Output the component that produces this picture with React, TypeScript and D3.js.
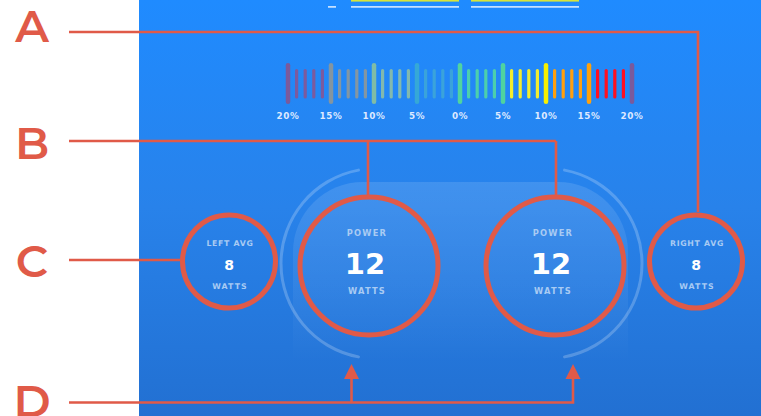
import React from "react";
import * as d3 from "d3";

// ---- data ----
const barColors = [
  "#7a5a9c", "#7c5a9e", "#7c5a9e", "#7c5a9e", "#7c5a9e",
  "#8495a0", "#8396a2", "#8396a2", "#8396a2", "#8396a2",
  "#80bca6", "#82b9ae", "#82b9ae", "#82b9ae", "#82b9ae",
  "#36a8d6", "#3aa3db", "#3aa3db", "#3aa3db", "#3aa3db",
  "#50d49f", "#4ccfac", "#4ccfac", "#4ccfac", "#4ccfac",
  "#4fd39f", "#f2ee2e", "#f2ee2e", "#f2ee2e", "#f2ee2e",
  "#f7f000", "#ff9f10", "#ff9f10", "#ff9f10", "#ff9f10",
  "#ffa10c", "#ff1020", "#ff1020", "#ff1020", "#ff1020",
  "#7a5a9c",
];
const tickLabels = ["20%", "15%", "10%", "5%", "0%", "5%", "10%", "15%", "20%"];
const powerTitles = ["POWER", "POWER"];
const powerValues = [12, 12];
const avgTitles = ["LEFT AVG", "RIGHT AVG"];
const avgValues = [8, 8];
const unitLabel = "WATTS";
const annotationLetters = ["A", "B", "C", "D"];

const W = 761;
const H = 416;
const RED = "#e05a48";

export default function App() {
  const x = d3.scaleLinear().domain([0, barColors.length - 1]).range([288, 632]);
  const bigCx = [369, 555];
  const bigCy = 266;
  const smallCx = [229, 696];
  const smallCy = 261.5;

  const arcGen = d3.arc<any>().innerRadius(93.5).outerRadius(96.5).cornerRadius(1.5);
  const leftArc = arcGen({ startAngle: Math.PI + 0.17, endAngle: 2 * Math.PI - 0.17 } as any) as string;
  const rightArc = arcGen({ startAngle: 0.17, endAngle: Math.PI - 0.17 } as any) as string;

  const uiFont = "'DejaVu Sans', sans-serif";
  const letterFont = "Montserrat, 'Open Sans', sans-serif";
  const letterY = [42, 159, 277, 417];

  const arrow = (cx: number) =>
    `M${cx},364 L${cx + 7.5},379 L${cx - 7.5},379 Z`;

  return (
    <svg
      width={W}
      height={H}
      style={{ position: "fixed", left: 0, top: 0, display: "block" }}
    >
      <defs>
        <linearGradient id="bg" x1="0" y1="0" x2="0" y2="1">
          <stop offset="0%" stopColor="#1f8bff" />
          <stop offset="50%" stopColor="#2882ea" />
          <stop offset="100%" stopColor="#2270d2" />
        </linearGradient>
        <linearGradient id="panel" x1="0" y1="0" x2="0" y2="1">
          <stop offset="0%" stopColor="#ffffff" stopOpacity={0.12} />
          <stop offset="35%" stopColor="#ffffff" stopOpacity={0.06} />
          <stop offset="62%" stopColor="#ffffff" stopOpacity={0} />
        </linearGradient>
      </defs>
      <rect x={0} y={0} width={W} height={H} fill="#ffffff" />
      <rect x={139} y={0} width={W - 139} height={H} fill="url(#bg)" />

      {/* top header lines */}
      <rect x={351} y={0} width={108} height={1.6} fill="#d8e43a" />
      <rect x={471} y={0} width={108} height={1.6} fill="#d8e43a" />
      <rect x={351} y={6.2} width={108} height={1.4} fill="#eef6ff" />
      <rect x={471} y={6.2} width={108} height={1.4} fill="#eef6ff" />
      <rect x={328} y={6.2} width={8} height={1.4} fill="#eef6ff" />

      {/* bars */}
      {barColors.map((c, i) => {
        const tall = i % 5 === 0;
        const w = tall ? 4.5 : 3.2;
        const y0 = tall ? 63 : 69;
        const y1 = tall ? 104 : 98.5;
        return (
          <rect
            key={i}
            x={x(i) - w / 2}
            y={y0}
            width={w}
            height={y1 - y0}
            rx={w / 2}
            fill={c}
          />
        );
      })}
      {tickLabels.map((t, k) => (
        <text
          key={k}
          x={x(k * 5)}
          y={119}
          textAnchor="middle"
          fontFamily={uiFont}
          fontWeight={700}
          fontSize={8.8}
          letterSpacing={0.6}
          fill="#dde9ff"
        >
          {t}
        </text>
      ))}

      {/* light panel */}
      <rect x={293} y={182} width={335} height={290} rx={70} fill="url(#panel)" />

      {/* arcs */}
      <path d={leftArc} transform="translate(376,263.5)" fill="#ffffff" fillOpacity={0.22} />
      <path d={rightArc} transform="translate(547,263.5)" fill="#ffffff" fillOpacity={0.22} />

      {/* big circles */}
      {bigCx.map((cx, i) => (
        <g key={i}>
          <text x={cx - 2} y={236} textAnchor="middle" fontFamily={uiFont} fontWeight={700}
            fontSize={8.3} letterSpacing={1.2} fill="#a9cbf3">
            {powerTitles[i]}
          </text>
          <text x={cx - 4} y={273.5} textAnchor="middle" fontFamily={uiFont} fontWeight={700}
            fontSize={29} fill="#ffffff">
            {powerValues[i]}
          </text>
          <text x={cx - 2} y={293.5} textAnchor="middle" fontFamily={uiFont} fontWeight={700}
            fontSize={8.3} letterSpacing={1.2} fill="#a9cbf3">
            {unitLabel}
          </text>
        </g>
      ))}
      {/* small circles */}
      {smallCx.map((cx, i) => (
        <g key={i}>
          <text x={cx + 1} y={246} textAnchor="middle" fontFamily={uiFont} fontWeight={700}
            fontSize={7.8} letterSpacing={0.7} fill="#a9cbf3">
            {avgTitles[i]}
          </text>
          <text x={cx} y={270} textAnchor="middle" fontFamily={uiFont} fontWeight={700}
            fontSize={14} fill="#ffffff">
            {avgValues[i]}
          </text>
          <text x={cx + 1} y={288.5} textAnchor="middle" fontFamily={uiFont} fontWeight={700}
            fontSize={7.8} letterSpacing={1.1} fill="#a9cbf3">
            {unitLabel}
          </text>
        </g>
      ))}

      {/* annotation overlay */}
      <g stroke={RED} strokeWidth={2.6} fill="none">
        <polyline points={`69,32 698,32 698,212`} />
        <polyline points={`69,141 556,141`} />
        <line x1={368} y1={141} x2={368} y2={196} />
        <line x1={556} y1={141} x2={556} y2={196} />
        <line x1={69} y1={260} x2={180} y2={260} />
        <polyline points={`69,402.5 573,402.5 573,378`} />
        <line x1={351.5} y1={402.5} x2={351.5} y2={378} />
        {bigCx.map((cx, i) => (
          <circle key={`b${i}`} cx={cx} cy={bigCy} r={69} strokeWidth={5} />
        ))}
        {smallCx.map((cx, i) => (
          <circle key={`s${i}`} cx={cx} cy={smallCy} r={46.5} strokeWidth={5} />
        ))}
      </g>
      <path d={arrow(351.5)} fill={RED} />
      <path d={arrow(573)} fill={RED} />

      {annotationLetters.map((l, i) => (
        <text key={l} x={32} y={letterY[i]} textAnchor="middle" fontFamily={letterFont}
          fontWeight={600} fontSize={45} fill={RED}>
          {l}
        </text>
      ))}
    </svg>
  );
}
